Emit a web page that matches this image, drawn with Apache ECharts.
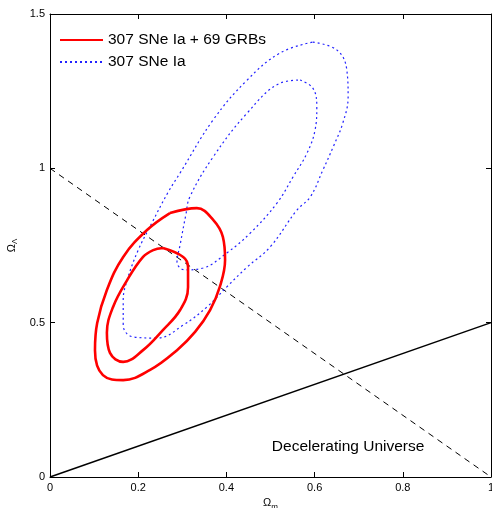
<!DOCTYPE html>
<html>
<head>
<meta charset="utf-8">
<script src="https://cdn.jsdelivr.net/npm/echarts@6/dist/echarts.min.js"></script>
<style>html,body{margin:0;padding:0;background:#fff}#c{width:492px;height:508px}</style>
</head>
<body>
<div id="c"></div>
<script>
// Axis ticks
const xTicks = [0, 0.2, 0.4, 0.6, 0.8, 1];
const yTicks = [0, 0.5, 1, 1.5];

// Contours: [Omega_m, Omega_Lambda]
const snGrbInner = [[0.256,0.742],[0.302,0.713],[0.313,0.680],[0.313,0.615],[0.295,0.541],[0.256,0.476],[0.211,0.411],[0.166,0.373],[0.136,0.402],[0.129,0.467],[0.143,0.551],[0.175,0.638],[0.211,0.713],[0.234,0.735]];
const snGrbOuter = [[0.272,0.855],[0.333,0.871],[0.370,0.833],[0.392,0.778],[0.397,0.703],[0.385,0.616],[0.363,0.541],[0.329,0.470],[0.288,0.411],[0.227,0.347],[0.166,0.314],[0.120,0.330],[0.102,0.411],[0.107,0.499],[0.129,0.606],[0.166,0.713],[0.220,0.800]];
const snOuter = [[0.596,1.409],[0.651,1.383],[0.673,1.319],[0.676,1.231],[0.664,1.147],[0.642,1.069],[0.619,0.995],[0.590,0.907],[0.560,0.865],[0.499,0.745],[0.447,0.680],[0.401,0.616],[0.356,0.551],[0.302,0.492],[0.243,0.450],[0.188,0.454],[0.166,0.492],[0.166,0.573],[0.175,0.638],[0.200,0.735],[0.231,0.823],[0.268,0.923],[0.295,0.985],[0.370,1.157],[0.447,1.286],[0.522,1.374]];
const snInner = [[0.567,1.286],[0.596,1.260],[0.605,1.199],[0.601,1.124],[0.583,1.050],[0.551,0.972],[0.515,0.888],[0.454,0.790],[0.401,0.726],[0.347,0.677],[0.306,0.671],[0.288,0.697],[0.295,0.752],[0.308,0.849],[0.317,0.907],[0.370,1.037],[0.447,1.179],[0.522,1.276]];

// Reference lines
const flatLine = [[0, 1], [1, 0]];
const decelLine = [[0, 0], [1, 0.5]];
const decelLabel = [[0.676, 0.097]];

const seriesNames = ['307 SNe Ia + 69 GRBs', '307 SNe Ia'];

function closed(a) { return a.concat([a[0]]); }

const FONT = 'Liberation Sans';
const chart = echarts.init(document.getElementById('c'));

const axisCommon = {
  type: 'value',
  axisLine: { show: true, onZero: false, lineStyle: { color: '#000', width: 1 } },
  axisTick: { show: true, inside: true, length: 5, lineStyle: { color: '#000' } },
  splitLine: { show: false }
};

chart.setOption({
  animation: false,
  backgroundColor: '#fff',
  grid: { left: 50, right: 1, top: 14, bottom: 31, containLabel: false, outerBoundsMode: 'none' },
  legend: {
    orient: 'vertical', left: 59, top: 32, itemGap: 6, padding: 0,
    itemWidth: 43, itemHeight: 10,
    itemStyle: { opacity: 0 },
    textStyle: { fontFamily: FONT, fontSize: 15.5, color: '#000' },
    data: seriesNames
  },
  xAxis: [
    Object.assign({}, axisCommon, {
      min: xTicks[0], max: xTicks[xTicks.length - 1], interval: 0.2, position: 'bottom',
      axisLabel: { color: '#000', fontFamily: FONT, fontSize: 11, margin: 5 },
      name: '{a|Ω}{b|m}', nameLocation: 'middle', nameGap: 17,
      nameTextStyle: { rich: { a: { fontFamily: FONT, fontSize: 11, color: '#000' }, b: { fontFamily: FONT, fontSize: 8, color: '#000', padding: [6, 0, 0, 0] } } }
    }),
    Object.assign({}, axisCommon, {
      min: xTicks[0], max: xTicks[xTicks.length - 1], interval: 0.2, position: 'top',
      axisLabel: { show: false }
    })
  ],
  yAxis: [
    Object.assign({}, axisCommon, {
      min: yTicks[0], max: yTicks[yTicks.length - 1], interval: 0.5, position: 'left',
      axisLabel: { color: '#000', fontFamily: FONT, fontSize: 11, margin: 5 },
      name: '{a|Ω}{b|Λ}', nameLocation: 'middle', nameGap: 24, nameRotate: 90,
      nameTextStyle: { rich: { a: { fontFamily: FONT, fontSize: 11, color: '#000' }, b: { fontFamily: FONT, fontSize: 8, color: '#000', padding: [6, 0, 0, 0] } } }
    }),
    Object.assign({}, axisCommon, {
      min: yTicks[0], max: yTicks[yTicks.length - 1], interval: 0.5, position: 'right',
      axisLabel: { show: false }
    })
  ],
  series: [
    { type: 'line', data: flatLine, symbol: 'none', silent: true, lineStyle: { color: '#000', width: 1, type: [6, 5] }, z: 1 },
    { type: 'line', data: decelLine, symbol: 'none', silent: true, lineStyle: { color: '#000', width: 1.5 }, z: 1 },
    { name: seriesNames[1], type: 'line', data: closed(snOuter), smooth: 0.4, symbol: 'none', color: '#2222ff', lineStyle: { color: '#2222ff', width: 1.2, type: [2, 3] }, z: 2 },
    { name: seriesNames[1], type: 'line', data: closed(snInner), smooth: 0.4, symbol: 'none', color: '#2222ff', lineStyle: { color: '#2222ff', width: 1.2, type: [2, 3] }, z: 2 },
    { name: seriesNames[0], type: 'line', data: closed(snGrbOuter), smooth: 0.4, symbol: 'none', color: '#ff0000', lineStyle: { color: '#ff0000', width: 2.6 }, z: 3 },
    { name: seriesNames[0], type: 'line', data: closed(snGrbInner), smooth: 0.4, symbol: 'none', color: '#ff0000', lineStyle: { color: '#ff0000', width: 2.6 }, z: 3 },
    { type: 'scatter', data: decelLabel, symbolSize: 0, silent: true, itemStyle: { opacity: 1 },
      label: { show: true, position: 'inside', formatter: 'Decelerating Universe', fontFamily: FONT, fontSize: 15.5, color: '#000', opacity: 1, textBorderWidth: 0 } }
  ]
});
</script>
</body>
</html>
